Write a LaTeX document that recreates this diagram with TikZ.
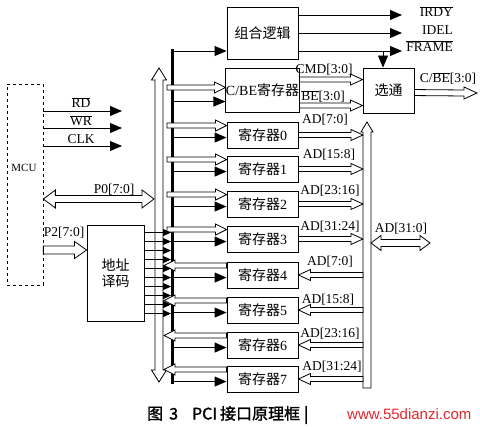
\documentclass[tikz,border=0pt]{standalone}
\usepackage{fontspec}
\setmainfont{Liberation Serif}
\newfontfamily\song{Noto Sans CJK SC}
\newfontfamily\hei{Noto Sans CJK SC}[FakeBold=1.5]
\newfontfamily\wsans{Liberation Sans}
\usetikzlibrary{arrows.meta,calc}
\definecolor{wm}{RGB}{228,38,46}
\newcommand\ovl[1]{\(\overline{\mbox{#1}}\)}
% hollow horizontal arrow: #1 start, #2 tip, #3 shaft half, #4 head half, #5 signed head length
\newcommand\harr[5]{\draw[hol] ($(#1)+(0,#3)$) -- ($(#2)+({-1*(#5)},#3)$) -- ($(#2)+({-1*(#5)},#4)$) -- (#2) -- ($(#2)+({-1*(#5)},{-1*(#4)})$) -- ($(#2)+({-1*(#5)},{-1*(#3)})$) -- ($(#1)+(0,{-1*(#3)})$) -- cycle;}
% double horizontal: #1 left tip, #2 right tip
\newcommand\hdarr[5]{\draw[hol] (#1) -- ($(#1)+(#5,#4)$) -- ($(#1)+(#5,#3)$) -- ($(#2)+(-#5,#3)$) -- ($(#2)+(-#5,#4)$) -- (#2) -- ($(#2)+(-#5,-#4)$) -- ($(#2)+(-#5,-#3)$) -- ($(#1)+(#5,-#3)$) -- ($(#1)+(#5,-#4)$) -- cycle;}
% vertical double: #1 top tip, #2 bottom tip
\newcommand\vdarr[5]{\draw[hol] (#1) -- ($(#1)+(#4,#5)$) -- ($(#1)+(#3,#5)$) -- ($(#2)+(#3,-#5)$) -- ($(#2)+(#4,-#5)$) -- (#2) -- ($(#2)+(-#4,-#5)$) -- ($(#2)+(-#3,-#5)$) -- ($(#1)+(-#3,#5)$) -- ($(#1)+(-#4,#5)$) -- cycle;}
% vertical single up: #1 top tip, #2 bottom end
\newcommand\vuarr[5]{\draw[hol] (#1) -- ($(#1)+(#4,#5)$) -- ($(#1)+(#3,#5)$) -- ($(#2)+(#3,0)$) -- ($(#2)+(-#3,0)$) -- ($(#1)+(-#3,#5)$) -- ($(#1)+(-#4,#5)$) -- cycle;}
\begin{document}
\begin{tikzpicture}[x=1pt,y=-1pt,
  box/.style={draw,line width=0.9pt,inner sep=0pt,font=\fontsize{14}{17}\selectfont},
  hol/.style={draw,fill=white,line width=0.8pt,line join=miter},
  sig/.style={line width=0.9pt,-{Triangle[length=12pt,width=10pt]}},
  dsig/.style={line width=0.8pt,-{Triangle[length=8pt,width=7pt]}},
  lab/.style={font=\fontsize{13.5}{16}\selectfont,inner sep=0pt}]
\useasboundingbox (0,0) rectangle (480,427);
% blocks
\node[draw,dashed,line width=0.7pt,minimum width=36pt,minimum height=201pt,inner sep=0pt] (mcu) at (25,184.5) {};
\node[lab,font=\fontsize{11}{13}\selectfont] (mcul) at (24,168) {MCU};
\node[box,minimum width=71pt,minimum height=52pt] (comb) at (262.5,33) {{\song 组合逻辑}};
\node[box,minimum width=71pt,minimum height=44pt] (cbe) at (262.5,90) {C/BE{\song 寄存器}};
\node[box,minimum width=51pt,minimum height=45pt] (sel) at (388.5,90.5) {{\song 选通}};
\node[box,minimum width=57pt,minimum height=96pt,align=center,font=\fontsize{14}{16}\selectfont\song] (dec) at (115.5,273) {地址\\译码};
\foreach \i/\yy in {0/122,1/156,2/191,3/226,4/262,5/297,6/332,7/366}{
  \node[box,minimum width=71pt,minimum height=26pt] (r\i) at (262.5,\yy+13) {{\song 寄存器}\i};
}
% helper coordinates
\coordinate (xH) at (167,0);
\coordinate (xT) at (164,0);
\coordinate (xB) at (172,0);
\coordinate (xBm) at (171,0);
\coordinate (xR) at (363,0);
\coordinate (bart) at (172,49);
\coordinate (barb) at (172,384);
\coordinate (busLt) at (159,68);
\coordinate (busLb) at (159,382);
\coordinate (busRt) at (367,122);
\coordinate (busRb) at (367,388);
% left hollow bus and control bar
\vdarr{busLt}{busLb}{4}{7.5}{12}
\draw[line width=3pt] (bart) -- (barb);
% top arrow to combinational logic
\coordinate (ct) at (172,51);
\draw[sig] (ct) -- (comb.west |- ct);
% C/BE register inputs
\coordinate (ci) at ($(cbe.north west)+(0,20)$);
\coordinate (cs) at (ci -| xH);
\harr{cs}{ci}{2.5}{5.5}{11}
\coordinate (cb) at ($(cbe.north west)+(0,34)$);
\draw[sig] (cb -| xB) -- (cb);
% register inputs
\foreach \i in {0,...,3}{
  \coordinate (hi\i) at ($(r\i.north west)+(0,4)$);
  \coordinate (hs\i) at (hi\i -| xH);
  \harr{hs\i}{hi\i}{2.5}{5.5}{11}
}
\foreach \i in {4,...,7}{
  \coordinate (hi\i) at ($(r\i.north west)+(0,4)$);
  \coordinate (ht\i) at (hi\i -| xT);
  \harr{hi\i}{ht\i}{2.5}{5.5}{-11}
}
\foreach \i in {0,...,7}{
  \coordinate (bi\i) at ($(r\i.north west)+(0,16)$);
  \draw[sig] (bi\i -| xB) -- (bi\i);
}
% decoder outputs
\foreach \k in {0,...,9}{
  \coordinate (d\k) at ($(dec.north east)+(0,8+9*\k)$);
  \draw[dsig] (d\k) -- (d\k -| xBm);
}
% MCU signals
\coordinate (rdE) at (122,111);
\coordinate (wrE) at (122,128);
\coordinate (clkE) at (122,146);
\draw[sig] (mcu.east |- rdE) -- (rdE);
\draw[sig] (mcu.east |- wrE) -- (wrE);
\draw[sig] (mcu.east |- clkE) -- (clkE);
\coordinate (p0y) at (0,199);
\coordinate (p0L) at (mcu.east |- p0y);
\coordinate (p0R) at (154,199);
\hdarr{p0L}{p0R}{3.5}{9}{12}
\coordinate (p2y) at (0,250);
\coordinate (p2L) at (mcu.east |- p2y);
\coordinate (p2R) at (dec.west |- p2y);
\harr{p2L}{p2R}{4}{8.5}{12}
% combinational logic outputs
\coordinate (o1) at (402,15);
\coordinate (o2) at (402,33);
\coordinate (o3) at (402,51);
\draw[sig] (comb.east |- o1) -- (o1);
\draw[sig] (comb.east |- o2) -- (o2);
\draw[sig] (comb.east |- o3) -- (o3);
\coordinate (fr) at (383,51);
\draw[sig] (fr) -- (sel.north -| fr);
% C/BE outputs
\coordinate (cm) at ($(cbe.north east)+(0,12)$);
\coordinate (cmE) at (cm -| sel.west);
\harr{cm}{cmE}{2.5}{5.5}{12}
\coordinate (be) at ($(cbe.north east)+(0,38)$);
\coordinate (beE) at (be -| sel.west);
\harr{be}{beE}{2.5}{5.5}{12}
\coordinate (co) at ($(sel.north east)+(0,25)$);
\coordinate (coE) at (477,93);
\harr{co}{coE}{3}{6}{13}
% right bus
\vuarr{busRt}{busRb}{4}{6}{10}
\foreach \i in {0,...,3}{
  \coordinate (ro\i) at (r\i.east -| xR);
  \harr{r\i.east}{ro\i}{2.5}{5.5}{12}
}
\foreach \i in {4,...,7}{
  \coordinate (ro\i) at (r\i.east -| xR);
  \harr{ro\i}{r\i.east}{2.5}{5.5}{-12}
}
\coordinate (adL) at (371,243);
\coordinate (adR) at (430,243);
\hdarr{adL}{adR}{3.5}{7.5}{10}
% labels
\node[lab,anchor=base] (lrd) at (81,108) {\ovl{RD}};
\node[lab,anchor=base] (lwr) at (81,126) {\ovl{WR}};
\node[lab,anchor=base] (lclk) at (81,144) {CLK};
\node[lab,anchor=base] (lp0) at (114,194) {P0[7:0]};
\node[lab,anchor=base] (lp2) at (64,237) {P2[7:0]};
\node[lab,anchor=base] (lcmd) at (324,74) {CMD[3:0]};
\node[lab,anchor=base] (lbe) at (323,101) {\ovl{BE}[3:0]};
\node[lab,anchor=base] (la0) at (325,124) {AD[7:0]};
\node[lab,anchor=base] (la1) at (329,159) {AD[15:8]};
\node[lab,anchor=base] (la2) at (330,195) {AD[23:16]};
\node[lab,anchor=base] (la3) at (330,231) {AD[31:24]};
\node[lab,anchor=base] (la4) at (330,266) {AD[7:0]};
\node[lab,anchor=base] (la5) at (328,304) {AD[15:8]};
\node[lab,anchor=base] (la6) at (330,338) {AD[23:16]};
\node[lab,anchor=base] (la7) at (332,371) {AD[31:24]};
\node[lab,anchor=base] (lad) at (401,233) {AD[31:0]};
\node[lab,anchor=base] (lcbe) at (448,83) {C/\ovl{BE}[3:0]};
\node[lab,anchor=base east] (lirdy) at (453,17) {\ovl{IRDY}};
\node[lab,anchor=base east] (lidel) at (453,35) {IDEL};
\node[lab,anchor=base east] (lframe) at (453,52) {\ovl{FRAME}};
% caption and watermark
\node[anchor=west,inner sep=0pt,font=\fontsize{16}{18}\selectfont\hei] (cap) at (147,415) {图\hspace{6pt}3\hspace{14pt}PCI\hspace{3pt}接口原理框\hspace{4pt}|};
\node[anchor=west,inner sep=0pt,text=wm,font=\fontsize{15}{17}\selectfont\wsans] (wmk) at (347,414) {www.55dianzi.com};
\end{tikzpicture}
\end{document}
